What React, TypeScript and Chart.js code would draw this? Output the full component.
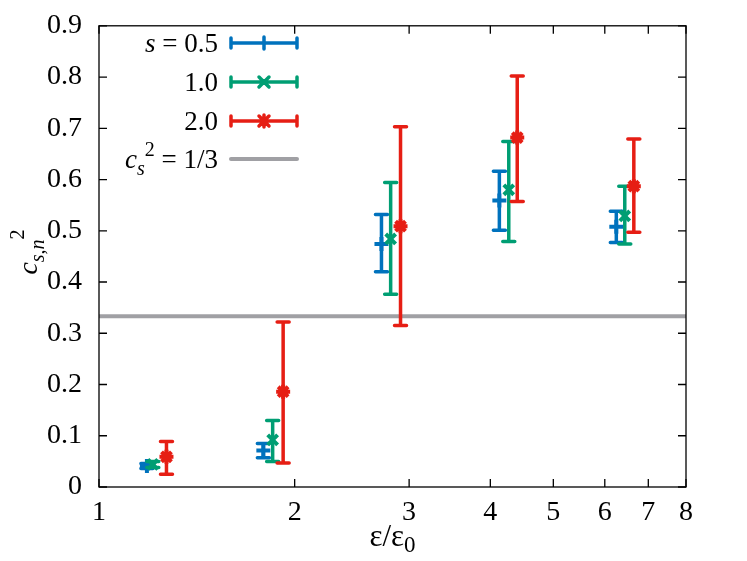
import React, { useEffect, useRef } from 'react';
import { Chart, registerables } from 'chart.js';
Chart.register(...registerables);

// ---- data ----
const seriesLabels = ['0.5', '1.0', '2.0'];

const xBlue = [1.185, 1.79, 2.72, 4.13, 6.25];
const yBlue = [0.041, 0.071, 0.474, 0.559, 0.508];
const loBlue = [0.036, 0.057, 0.42, 0.501, 0.477];
const hiBlue = [0.046, 0.085, 0.532, 0.616, 0.538];

const xGreen = [1.21, 1.85, 2.81, 4.27, 6.44];
const yGreen = [0.044, 0.092, 0.484, 0.58, 0.529];
const loGreen = [0.038, 0.05, 0.376, 0.479, 0.474];
const hiGreen = [0.05, 0.13, 0.594, 0.674, 0.587];

const xRed = [1.27, 1.92, 2.91, 4.4, 6.65];
const yRed = [0.059, 0.186, 0.509, 0.682, 0.587];
const loRed = [0.025, 0.047, 0.315, 0.557, 0.497];
const hiRed = [0.089, 0.322, 0.703, 0.802, 0.679];

const refLevel = 1 / 3;
const xRange = [1, 8];
const xTicks = [1, 2, 3, 4, 5, 6, 7, 8];
const yTicks = [0, 0.1, 0.2, 0.3, 0.4, 0.5, 0.6, 0.7, 0.8, 0.9];

const BLUE = 'rgb(0,114,189)';
const GREEN = 'rgb(0,158,115)';
const RED = 'rgb(230,30,20)';
const GRAY = 'rgb(160,160,164)';
const FONT = '"Liberation Serif", "Times New Roman", serif';

type Part = { t: string; italic?: boolean; size?: number; dy?: number };

function drawRich(ctx: CanvasRenderingContext2D, parts: Part[], x: number, y: number, align: 'left' | 'center' | 'right', base = 27) {
  const widths = parts.map((p) => {
    ctx.font = `${p.italic ? 'italic ' : ''}${p.size || base}px ${FONT}`;
    return ctx.measureText(p.t).width;
  });
  const total = widths.reduce((a, b) => a + b, 0);
  let cx = align === 'left' ? x : align === 'center' ? x - total / 2 : x - total;
  ctx.textAlign = 'left';
  ctx.textBaseline = 'alphabetic';
  parts.forEach((p, i) => {
    ctx.font = `${p.italic ? 'italic ' : ''}${p.size || base}px ${FONT}`;
    ctx.fillText(p.t, cx, y + (p.dy || 0));
    cx += widths[i];
  });
}

const mk = (xs: number[], ys: number[]) => xs.map((x, i) => ({ x, y: ys[i] }));

const decorPlugin = {
  id: 'decor',
  beforeDatasetDraw(chart: any, args: any) {
    const ds = chart.data.datasets[args.index];
    if (!ds.errLo) return;
    const { ctx } = chart;
    const x = chart.scales.x;
    const y = chart.scales.y;
    ctx.save();
    ctx.strokeStyle = ds.borderColor;
    ctx.lineWidth = 3.5;
    ctx.lineCap = 'round';
    ds.data.forEach((p: any, i: number) => {
      const px = x.getPixelForValue(p.x);
      const p1 = y.getPixelForValue(ds.errLo[i]);
      const p2 = y.getPixelForValue(ds.errHi[i]);
      ctx.beginPath();
      ctx.moveTo(px, p1);
      ctx.lineTo(px, p2);
      ctx.moveTo(px - 6, p1);
      ctx.lineTo(px + 6, p1);
      ctx.moveTo(px - 6, p2);
      ctx.lineTo(px + 6, p2);
      ctx.stroke();
    });
    ctx.restore();
  },
  afterDraw(chart: any) {
    const { ctx, chartArea: a } = chart;
    const x = chart.scales.x;
    const y = chart.scales.y;
    ctx.save();
    // frame
    ctx.strokeStyle = '#000';
    ctx.lineWidth = 1.3;
    ctx.strokeRect(a.left, a.top, a.right - a.left, a.bottom - a.top);
    ctx.beginPath();
    const tl = 8;
    yTicks.forEach((v) => {
      const py = y.getPixelForValue(v);
      ctx.moveTo(a.left, py);
      ctx.lineTo(a.left + tl, py);
      ctx.moveTo(a.right, py);
      ctx.lineTo(a.right - tl, py);
    });
    xTicks.forEach((v) => {
      const px = x.getPixelForValue(v);
      ctx.moveTo(px, a.bottom);
      ctx.lineTo(px, a.bottom - tl);
      ctx.moveTo(px, a.top);
      ctx.lineTo(px, a.top + tl);
    });
    ctx.stroke();

    ctx.fillStyle = '#000';
    // x title
    drawRich(ctx, [{ t: 'ε/ε', size: 31 }, { t: '0', size: 23, dy: 6 }], (a.left + a.right) / 2, 546, 'center');
    // y title
    ctx.save();
    ctx.translate(37, 252);
    ctx.rotate(-Math.PI / 2);
    drawRich(ctx, [
      { t: 'c', italic: true, size: 28 },
      { t: 's,n', italic: true, size: 20, dy: 7 },
      { t: '2', size: 20, dy: -13 },
    ], 0, 0, 'center');
    ctx.restore();

    // legend
    const rows = [43, 82, 121, 159];
    const colors = [BLUE, GREEN, RED];
    const lx1 = 231, lx2 = 297, lm = 264, tx = 218;
    ctx.lineCap = 'round';
    for (let i = 0; i < 3; i++) {
      const ry = rows[i];
      ctx.fillStyle = '#000';
      if (i === 0) {
        drawRich(ctx, [{ t: 's', italic: true }, { t: ' = 0.5' }], tx, ry + 9, 'right');
      } else {
        drawRich(ctx, [{ t: seriesLabels[i] }], tx, ry + 9, 'right');
      }
      ctx.strokeStyle = colors[i];
      ctx.lineWidth = 3.5;
      ctx.beginPath();
      ctx.moveTo(lx1, ry);
      ctx.lineTo(lx2, ry);
      ctx.moveTo(lx1, ry - 5);
      ctx.lineTo(lx1, ry + 5);
      ctx.moveTo(lx2, ry - 5);
      ctx.lineTo(lx2, ry + 5);
      if (i === 0 || i === 2) {
        ctx.moveTo(lm, ry - 6);
        ctx.lineTo(lm, ry + 6);
      }
      if (i === 1 || i === 2) {
        ctx.moveTo(lm - 5, ry - 5);
        ctx.lineTo(lm + 5, ry + 5);
        ctx.moveTo(lm - 5, ry + 5);
        ctx.lineTo(lm + 5, ry - 5);
      }
      ctx.stroke();
    }
    const gy = rows[3];
    ctx.fillStyle = '#000';
    drawRich(ctx, [
      { t: 'c', italic: true },
      { t: 's', italic: true, size: 20, dy: 7 },
      { t: '2', size: 20, dy: -12 },
      { t: ' = 1/3' },
    ], tx, gy + 9, 'right');
    ctx.strokeStyle = GRAY;
    ctx.lineWidth = 4;
    ctx.beginPath();
    ctx.moveTo(lx1, gy);
    ctx.lineTo(lx2, gy);
    ctx.stroke();
    ctx.restore();
  },
};

export default function App() {
  const ref = useRef<HTMLCanvasElement>(null);
  useEffect(() => {
    if (!ref.current) return;
    const series = (label: string, xs: number[], ys: number[], lo: number[], hi: number[], color: string, style: string, order: number, radius: number) => ({
      type: 'scatter',
      label,
      data: mk(xs, ys),
      errLo: lo,
      errHi: hi,
      borderColor: color,
      backgroundColor: color,
      pointStyle: style,
      pointRadius: radius,
      pointBorderWidth: 4,
      showLine: false,
      order,
    });
    const chart = new Chart(ref.current, {
      type: 'scatter',
      data: {
        datasets: [
          series('s = 0.5', xBlue, yBlue, loBlue, hiBlue, BLUE, 'cross', 2, 7),
          series('1.0', xGreen, yGreen, loGreen, hiGreen, GREEN, 'crossRot', 1, 7),
          series('2.0', xRed, yRed, loRed, hiRed, RED, 'star', 0, 7),
          {
            type: 'line',
            label: 'cs2 = 1/3',
            data: [{ x: xRange[0], y: refLevel }, { x: xRange[1], y: refLevel }],
            borderColor: GRAY,
            borderWidth: 4,
            pointRadius: 0,
            order: 5,
          } as any,
        ] as any,
      },
      options: {
        responsive: false,
        animation: false,
        events: [],
        layout: { padding: { top: 18, right: 61, left: 0, bottom: 0 } },
        plugins: { legend: { display: false }, tooltip: { enabled: false } },
        scales: {
          x: {
            type: 'logarithmic',
            min: xRange[0],
            max: xRange[1],
            grid: { display: false },
            border: { display: false },
            afterBuildTicks: (s: any) => {
              s.ticks = xTicks.map((v) => ({ value: v }));
            },
            afterFit: (s: any) => {
              s.height = 74;
            },
            ticks: {
              autoSkip: false,
              maxRotation: 0,
              padding: 1,
              color: '#000',
              font: { family: FONT, size: 28 },
              callback: (v: any) => String(v),
            },
          },
          y: {
            type: 'linear',
            min: 0,
            max: 0.9,
            grid: { display: false },
            border: { display: false },
            afterBuildTicks: (s: any) => {
              s.ticks = yTicks.map((v) => ({ value: v }));
            },
            afterFit: (s: any) => {
              s.width = 99;
            },
            ticks: {
              padding: 9,
              color: '#000',
              font: { family: FONT, size: 28 },
              callback: (v: any) => (v === 0 ? '0' : Number(v).toFixed(1)),
            },
          },
        },
      } as any,
      plugins: [decorPlugin as any],
    });
    return () => chart.destroy();
  }, []);
  return (
    <div style={{ position: 'absolute', left: 0, top: 0, width: 747, height: 561, background: '#fff' }}>
      <canvas ref={ref} width={747} height={561} />
    </div>
  );
}
